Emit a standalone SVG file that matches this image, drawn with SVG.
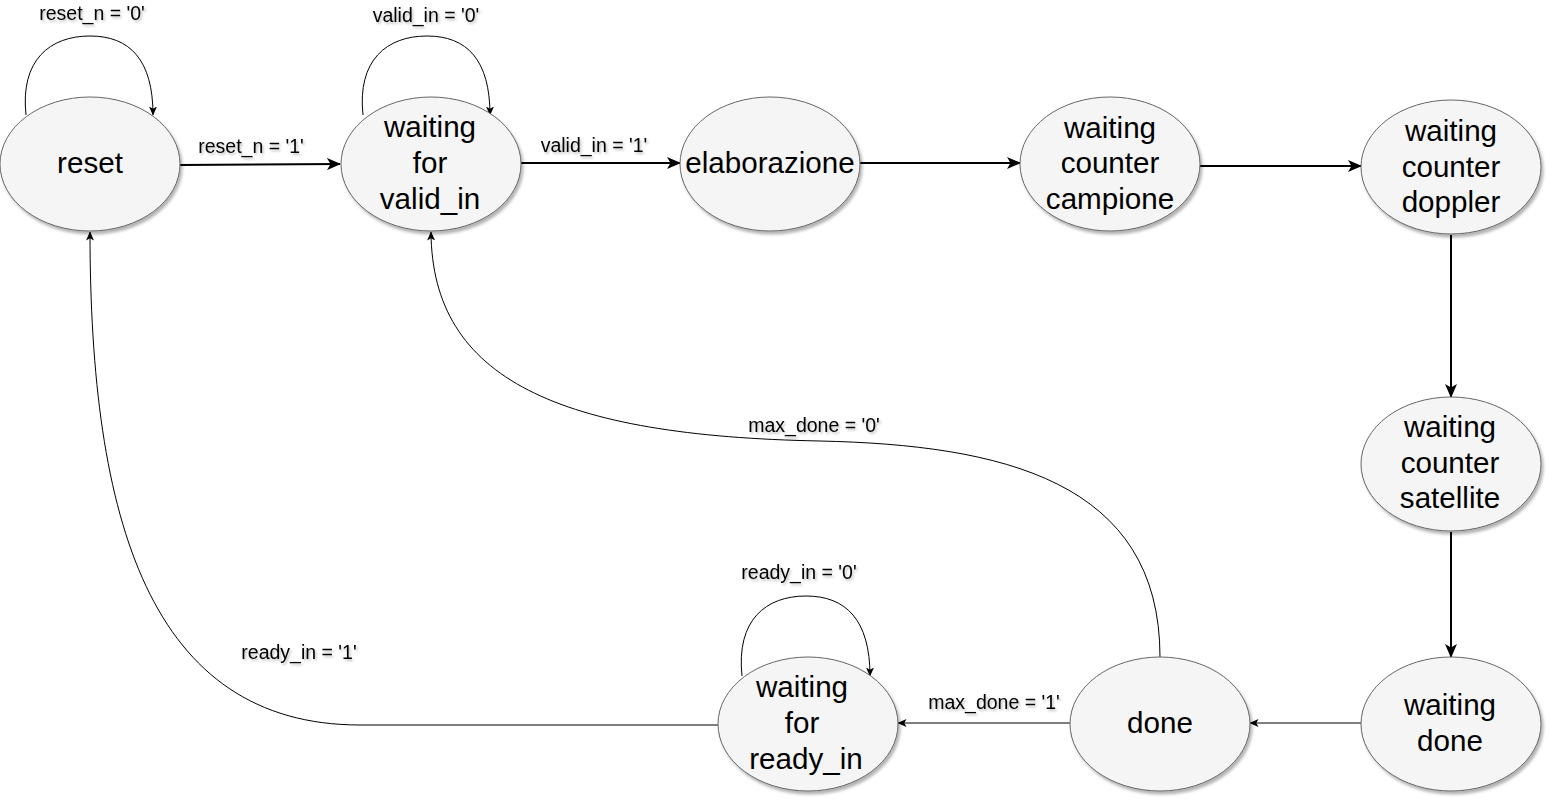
<svg xmlns="http://www.w3.org/2000/svg" width="1551" height="800" viewBox="0 0 1551 800">
<style>
.n{fill:#f5f5f5;stroke:#666666;stroke-width:1;filter:url(#sh)}
.t{font-family:"Liberation Sans",Arial,sans-serif;font-size:29.6px;fill:#000;text-anchor:middle;dominant-baseline:central}
.l{font-family:"Liberation Sans",Arial,sans-serif;font-size:19.5px;fill:#000;text-anchor:middle;dominant-baseline:central;filter:url(#tsh)}
.e1{fill:none;stroke:#000;stroke-width:2;marker-end:url(#big)}
.e2{fill:none;stroke:#000;stroke-width:1;marker-end:url(#small)}
</style>
<defs>
<filter id="sh" x="-20%" y="-20%" width="140%" height="140%"><feDropShadow dx="2" dy="3" stdDeviation="1.5" flood-color="#000" flood-opacity="0.3"/></filter>
<filter id="tsh" x="-10%" y="-30%" width="120%" height="160%"><feDropShadow dx="1.5" dy="2" stdDeviation="1" flood-color="#000" flood-opacity="0.25"/></filter>
<marker id="big" viewBox="0 0 14 12" refX="13" refY="6" markerWidth="14" markerHeight="12" markerUnits="userSpaceOnUse" orient="auto"><path d="M0,0 L14,6 L0,12 L3.5,6 Z" fill="#000"/></marker>
<marker id="small" viewBox="0 0 9 8" refX="8.5" refY="4" markerWidth="9" markerHeight="8" markerUnits="userSpaceOnUse" orient="auto"><path d="M0,0 L9,4 L0,8 L2.2,4 Z" fill="#000"/></marker>
</defs>
<g id="edges">
<path class="e2" d="M26,115 C20,60 50,36 90,36 C130,36 153,60 153,115"/>
<path class="e1" d="M180,165 L340,164"/>
<path class="e2" d="M363,115 C357,60 387,36 427,36 C467,36 490,60 490,115"/>
<path class="e1" d="M521,163 L680,163"/>
<path class="e1" d="M860,163 L1020,163"/>
<path class="e1" d="M1200,166 L1361,166"/>
<path class="e1" d="M1451,235 L1451,397"/>
<path class="e1" d="M1451,532 L1451,657"/>
<path class="e2" d="M1361,723 L1250,723"/>
<path class="e2" d="M1070,723 L898,723"/>
<path class="e2" d="M742,676 C736,620 766,596 806,596 C846,596 870,620 870,676"/>
<path class="e2" d="M718,725 L360,725 C150,725 90,520 90,232"/>
<path class="e2" d="M1160,657 C1160,480 1000,445 820,441 C560,436 432,380 431,232"/>
</g>
<g id="labels">
<text class="l" x="92" y="13">reset_n = '0'</text>
<text class="l" x="251" y="146">reset_n = '1'</text>
<text class="l" x="426" y="15">valid_in = '0'</text>
<text class="l" x="594" y="145">valid_in = '1'</text>
<text class="l" x="814" y="425">max_done = '0'</text>
<text class="l" x="799" y="572">ready_in = '0'</text>
<text class="l" x="299" y="652">ready_in = '1'</text>
<text class="l" x="994" y="702">max_done = '1'</text>
</g>
<g id="reset"><ellipse class="n" cx="90" cy="164" rx="90" ry="67"/><text class="t" x="90" y="162">reset</text></g>
<g id="waiting_valid"><ellipse class="n" cx="431" cy="164" rx="90" ry="67"/><text class="t" x="430" y="126">waiting</text><text class="t" x="430" y="162">for</text><text class="t" x="430" y="198">valid_in</text></g>
<g id="elaborazione"><ellipse class="n" cx="770" cy="164" rx="90" ry="67"/><text class="t" x="770" y="162">elaborazione</text></g>
<g id="campione"><ellipse class="n" cx="1110" cy="164" rx="90" ry="67"/><text class="t" x="1110" y="127">waiting</text><text class="t" x="1110" y="162">counter</text><text class="t" x="1110" y="198">campione</text></g>
<g id="doppler"><ellipse class="n" cx="1451" cy="167" rx="90" ry="67"/><text class="t" x="1451" y="130">waiting</text><text class="t" x="1451" y="166">counter</text><text class="t" x="1451" y="201">doppler</text></g>
<g id="satellite"><ellipse class="n" cx="1451" cy="464" rx="90" ry="67"/><text class="t" x="1450" y="426">waiting</text><text class="t" x="1450" y="462">counter</text><text class="t" x="1450" y="497">satellite</text></g>
<g id="waiting_done"><ellipse class="n" cx="1451" cy="724" rx="90" ry="67"/><text class="t" x="1450" y="704">waiting</text><text class="t" x="1450" y="740">done</text></g>
<g id="done"><ellipse class="n" cx="1160" cy="724" rx="90" ry="67"/><text class="t" x="1160" y="722">done</text></g>
<g id="waiting_ready"><ellipse class="n" cx="808" cy="724" rx="90" ry="67"/><text class="t" x="802" y="686">waiting</text><text class="t" x="802" y="722">for</text><text class="t" x="806" y="758">ready_in</text></g>
</svg>
